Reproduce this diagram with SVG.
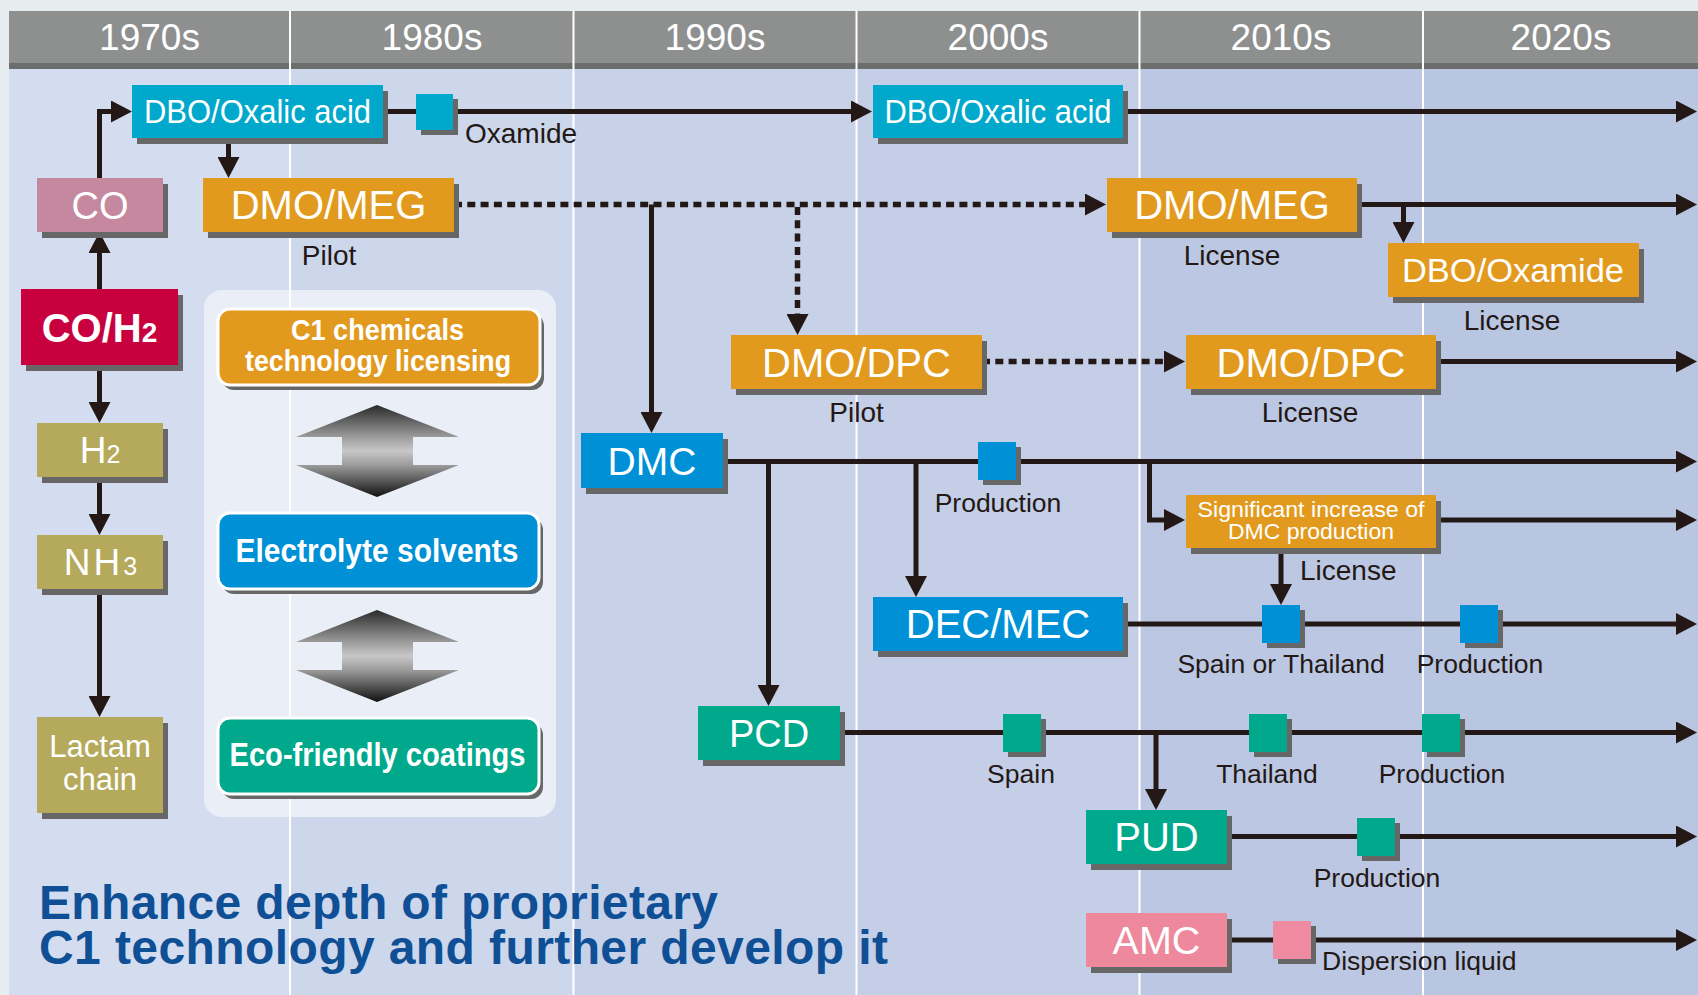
<svg xmlns="http://www.w3.org/2000/svg" width="1698" height="995" viewBox="0 0 1698 995">
<defs>
<style>
.sans{font-family:"Liberation Sans",Arial,Helvetica,sans-serif}
.hd{font-family:"Liberation Sans",Arial,sans-serif;font-size:37px;fill:#fff;text-anchor:middle}
.bt{font-family:"Liberation Sans",Arial,sans-serif;fill:#fff;text-anchor:middle}
.bb{font-family:"Liberation Sans",Arial,sans-serif;font-weight:bold;fill:#fff;text-anchor:middle}
.lb{font-family:"Liberation Sans",Arial,sans-serif;fill:#231815;font-size:28px}
.ls{font-family:"Liberation Sans",Arial,sans-serif;fill:#231815;font-size:26.5px}
.mid{text-anchor:middle}
.sh{fill:#676767}
.div{stroke:#fff;stroke-width:2}
.ln{fill:none;stroke:#231815;stroke-width:5;marker-end:url(#ah)}
.dot{fill:none;stroke:#231815;stroke-width:5.5;stroke-dasharray:8 5.3;marker-end:url(#ah)}
.cyan{fill:#00a9cc}
.org{fill:#e29a1e}
.blu{fill:#0090d6}
.teal{fill:#00a88c}
.olv{fill:#b5aa5c}
.rbox{stroke:#fff;stroke-width:3}
</style>
<marker id="ah" markerUnits="userSpaceOnUse" markerWidth="22" markerHeight="22" refX="6" refY="11" orient="auto" viewBox="0 0 22 22">
<path d="M0,0 L21,11 L0,22 z" fill="#231815"/>
</marker>
<linearGradient id="dbl" x1="0" y1="0" x2="0" y2="1">
<stop offset="0" stop-color="#2a2a2a"/>
<stop offset="0.34" stop-color="#999"/>
<stop offset="0.5" stop-color="#c8c8c8"/>
<stop offset="0.66" stop-color="#999"/>
<stop offset="1" stop-color="#111"/>
</linearGradient>
</defs>

<g id="background">
<rect x="0" y="0" width="1698" height="995" fill="#e7ecef"/>
<rect x="9" y="11" width="281" height="984" fill="#d3ddef"/>
<rect x="290" y="11" width="283.5" height="984" fill="#ccd7eb"/>
<rect x="573.5" y="11" width="283" height="984" fill="#c7d1e7"/>
<rect x="856.5" y="11" width="283" height="984" fill="#c4cee6"/>
<rect x="1139.5" y="11" width="283.5" height="984" fill="#bcc8e3"/>
<rect x="1423" y="11" width="275" height="984" fill="#b9c6e2"/>
</g>

<g id="header">
<rect x="9" y="11" width="1689" height="53" fill="#8e8f8f"/>
<rect x="9" y="63" width="1689" height="6" fill="#6c6d6d"/>
<text class="hd" x="149.5" y="50">1970s</text>
<text class="hd" x="432" y="50">1980s</text>
<text class="hd" x="715" y="50">1990s</text>
<text class="hd" x="998" y="50">2000s</text>
<text class="hd" x="1281" y="50">2010s</text>
<text class="hd" x="1561" y="50">2020s</text>
</g>

<g id="panel">
<rect x="204" y="290" width="352" height="527" rx="18" fill="#e9eef7"/>
</g>

<g id="dividers">
<line class="div" x1="290" y1="11" x2="290" y2="995"/>
<line class="div" x1="573.5" y1="11" x2="573.5" y2="995"/>
<line class="div" x1="856.5" y1="11" x2="856.5" y2="995"/>
<line class="div" x1="1139.5" y1="11" x2="1139.5" y2="995"/>
<line class="div" x1="1423" y1="11" x2="1423" y2="995"/>
</g>

<g id="connectors">
<path class="ln" d="M99.5,178 V111.5 H117"/>
<path class="ln" d="M228.5,138 V163"/>
<path class="ln" d="M383,111.5 H857"/>
<path class="ln" d="M1123,111.5 H1682"/>
<path class="ln" d="M99.5,289 V247"/>
<path class="ln" d="M99.5,365 V408"/>
<path class="ln" d="M99.5,477 V520"/>
<path class="ln" d="M99.5,589 V702"/>
<path class="dot" d="M454,204.5 H1091"/>
<path class="ln" d="M651.5,204.5 V418"/>
<path class="dot" d="M797.5,207 V320"/>
<path class="ln" d="M1357,204.5 H1682"/>
<path class="ln" d="M1403.5,204.5 V228"/>
<path class="dot" d="M982,361.5 H1170"/>
<path class="ln" d="M1436,361.5 H1682"/>
<path class="ln" d="M723,461.5 H1682"/>
<path class="ln" d="M768.5,461.5 V691"/>
<path class="ln" d="M916,461.5 V582"/>
<path class="ln" d="M1149.5,461.5 V520 H1170"/>
<path class="ln" d="M1436,520 H1682"/>
<path class="ln" d="M1281,548 V590"/>
<path class="ln" d="M1123,624 H1682"/>
<path class="ln" d="M840,732.5 H1682"/>
<path class="ln" d="M1156,732.5 V795"/>
<path class="ln" d="M1227,836.5 H1682"/>
<path class="ln" d="M1227,940 H1682"/>
</g>

<g id="co">
<rect class="sh" x="42" y="184" width="126" height="54"/>
<rect x="37" y="178" width="126" height="54" fill="#c5889f"/>
<text class="bt" x="100" y="219" font-size="38">CO</text>
</g>
<g id="coh2">
<rect class="sh" x="26" y="295" width="157" height="76"/>
<rect x="21" y="289" width="157" height="76" fill="#c8003e"/>
<text class="bb" x="99.5" y="342" font-size="40">CO/H<tspan font-size="28">2</tspan></text>
</g>
<g id="h2">
<rect class="sh" x="42" y="429" width="126" height="54"/>
<rect class="olv" x="37" y="423" width="126" height="54"/>
<text class="bt" x="100" y="463" font-size="37">H<tspan font-size="25">2</tspan></text>
</g>
<g id="nh3">
<rect class="sh" x="42" y="541" width="126" height="54"/>
<rect class="olv" x="37" y="535" width="126" height="54"/>
<text class="bt" x="102" y="575" font-size="37" letter-spacing="3">NH<tspan font-size="25">3</tspan></text>
</g>
<g id="lactam">
<rect class="sh" x="42" y="723" width="126" height="96"/>
<rect class="olv" x="37" y="717" width="126" height="96"/>
<text class="bt" x="100" y="757" font-size="31">Lactam</text>
<text class="bt" x="100" y="790" font-size="31">chain</text>
</g>

<g id="c1-licensing">
<rect class="sh" x="222" y="314" width="322" height="76" rx="12"/>
<rect class="org rbox" x="218" y="309" width="322" height="76" rx="12"/>
<text class="bb" x="377.5" y="340" font-size="30" textLength="173" lengthAdjust="spacingAndGlyphs">C1 chemicals</text>
<text class="bb" x="378" y="371" font-size="30" textLength="266" lengthAdjust="spacingAndGlyphs">technology licensing</text>
</g>
<g id="double-arrow-1">
<polygon points="377,405 459,437 413,437 413,465 459,465 377,497 296,465 342,465 342,437 296,437" fill="url(#dbl)"/>
</g>
<g id="electrolyte">
<rect class="sh" x="222" y="518" width="321" height="76" rx="12"/>
<rect class="blu rbox" x="218" y="513" width="321" height="76" rx="12"/>
<text class="bb" x="377" y="562" font-size="34" textLength="283" lengthAdjust="spacingAndGlyphs">Electrolyte solvents</text>
</g>
<g id="double-arrow-2">
<polygon points="377,610 459,642 413,642 413,670 459,670 377,702 296,670 342,670 342,642 296,642" fill="url(#dbl)"/>
</g>
<g id="eco-coatings">
<rect class="sh" x="222" y="723" width="321" height="76" rx="12"/>
<rect class="teal rbox" x="218" y="718" width="321" height="76" rx="12"/>
<text class="bb" x="377.5" y="766" font-size="34" textLength="296" lengthAdjust="spacingAndGlyphs">Eco-friendly coatings</text>
</g>

<g id="dbo-oxalic-1">
<rect class="sh" x="137" y="91" width="251" height="53"/>
<rect class="cyan" x="132" y="85" width="251" height="53"/>
<text class="bt" x="257.5" y="123" font-size="33" textLength="227" lengthAdjust="spacingAndGlyphs">DBO/Oxalic acid</text>
</g>
<g id="oxamide">
<rect class="sh" x="421" y="99" width="37" height="36"/>
<rect class="cyan" x="416" y="94" width="37" height="36"/>
<text class="lb" x="465" y="143">Oxamide</text>
</g>
<g id="dmo-meg-1">
<rect class="sh" x="208" y="184" width="251" height="54"/>
<rect class="org" x="203" y="178" width="251" height="54"/>
<text class="bt" x="328.5" y="219" font-size="40">DMO/MEG</text>
<text class="lb mid" x="329" y="265">Pilot</text>
</g>
<g id="dbo-oxalic-2">
<rect class="sh" x="878" y="91" width="250" height="53"/>
<rect class="cyan" x="873" y="85" width="250" height="53"/>
<text class="bt" x="998" y="123" font-size="33" textLength="227" lengthAdjust="spacingAndGlyphs">DBO/Oxalic acid</text>
</g>
<g id="dmo-meg-2">
<rect class="sh" x="1112" y="184" width="250" height="54"/>
<rect class="org" x="1107" y="178" width="250" height="54"/>
<text class="bt" x="1232" y="219" font-size="40">DMO/MEG</text>
<text class="lb mid" x="1232" y="265">License</text>
</g>
<g id="dbo-oxamide">
<rect class="sh" x="1393" y="249" width="251" height="54"/>
<rect class="org" x="1388" y="243" width="251" height="54"/>
<text class="bt" x="1513" y="282" font-size="33" textLength="222" lengthAdjust="spacingAndGlyphs">DBO/Oxamide</text>
<text class="lb mid" x="1512" y="330">License</text>
</g>
<g id="dmo-dpc-1">
<rect class="sh" x="736" y="341" width="251" height="54"/>
<rect class="org" x="731" y="335" width="251" height="54"/>
<text class="bt" x="856.5" y="376.5" font-size="40">DMO/DPC</text>
<text class="lb mid" x="856.5" y="421.5">Pilot</text>
</g>
<g id="dmo-dpc-2">
<rect class="sh" x="1191" y="341" width="250" height="54"/>
<rect class="org" x="1186" y="335" width="250" height="54"/>
<text class="bt" x="1311" y="376.5" font-size="40">DMO/DPC</text>
<text class="lb mid" x="1310" y="421.5">License</text>
</g>

<g id="dmc">
<rect class="sh" x="586" y="439" width="142" height="55"/>
<rect class="blu" x="581" y="433" width="142" height="55"/>
<text class="bt" x="652" y="475" font-size="39">DMC</text>
</g>
<g id="dmc-production">
<rect class="sh" x="983" y="447" width="38" height="38"/>
<rect class="blu" x="978" y="442" width="38" height="38"/>
<text class="ls mid" x="998" y="511.5">Production</text>
</g>
<g id="dmc-increase">
<rect class="sh" x="1191" y="501" width="250" height="53"/>
<rect class="org" x="1186" y="495" width="250" height="53"/>
<text class="bt" x="1311" y="516.5" font-size="22" textLength="227" lengthAdjust="spacingAndGlyphs">Significant increase of</text>
<text class="bt" x="1311" y="538.5" font-size="22" textLength="166" lengthAdjust="spacingAndGlyphs">DMC production</text>
<text class="lb" x="1300" y="580">License</text>
</g>
<g id="dec-mec">
<rect class="sh" x="878" y="603" width="250" height="54"/>
<rect class="blu" x="873" y="597" width="250" height="54"/>
<text class="bt" x="998" y="638" font-size="40">DEC/MEC</text>
</g>
<g id="dec-spain-thailand">
<rect class="sh" x="1267" y="610" width="38" height="38"/>
<rect class="blu" x="1262" y="605" width="38" height="38"/>
<text class="ls mid" x="1281" y="673">Spain or Thailand</text>
</g>
<g id="dec-production">
<rect class="sh" x="1465" y="610" width="38" height="38"/>
<rect class="blu" x="1460" y="605" width="38" height="38"/>
<text class="ls mid" x="1480" y="673">Production</text>
</g>

<g id="pcd">
<rect class="sh" x="703" y="712" width="142" height="54"/>
<rect class="teal" x="698" y="706" width="142" height="54"/>
<text class="bt" x="769" y="746.5" font-size="38">PCD</text>
</g>
<g id="pcd-spain">
<rect class="sh" x="1008" y="719" width="38" height="38"/>
<rect class="teal" x="1003" y="714" width="38" height="38"/>
<text class="ls mid" x="1021" y="783">Spain</text>
</g>
<g id="pcd-thailand">
<rect class="sh" x="1254" y="719" width="38" height="38"/>
<rect class="teal" x="1249" y="714" width="38" height="38"/>
<text class="ls mid" x="1267" y="783">Thailand</text>
</g>
<g id="pcd-production">
<rect class="sh" x="1427" y="719" width="38" height="38"/>
<rect class="teal" x="1422" y="714" width="38" height="38"/>
<text class="ls mid" x="1442" y="783">Production</text>
</g>
<g id="pud">
<rect class="sh" x="1091" y="816" width="141" height="54"/>
<rect class="teal" x="1086" y="810" width="141" height="54"/>
<text class="bt" x="1156.5" y="851" font-size="40">PUD</text>
</g>
<g id="pud-production">
<rect class="sh" x="1362" y="823" width="38" height="38"/>
<rect class="teal" x="1357" y="818" width="38" height="38"/>
<text class="ls mid" x="1377" y="887">Production</text>
</g>
<g id="amc">
<rect class="sh" x="1091" y="919" width="141" height="54"/>
<rect x="1086" y="913" width="141" height="54" fill="#ee889d"/>
<text class="bt" x="1156.5" y="954" font-size="39.5">AMC</text>
</g>
<g id="amc-dispersion">
<rect class="sh" x="1278" y="926" width="38" height="38"/>
<rect x="1273" y="921" width="38" height="38" fill="#ef8ba0"/>
<text class="ls" x="1322" y="970">Dispersion liquid</text>
</g>

<g id="title">
<text class="sans" font-size="48" font-weight="bold" fill="#0f4f96"><tspan x="39" y="919" textLength="679">Enhance depth of proprietary</tspan><tspan x="39" y="964" textLength="849">C1 technology and further develop it</tspan></text>
</g>
</svg>
